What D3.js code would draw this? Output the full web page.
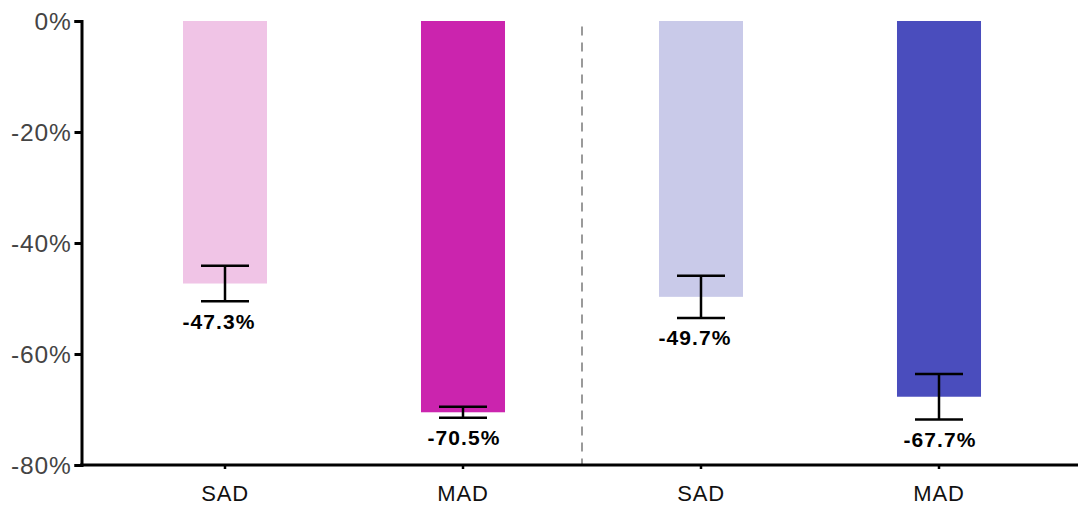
<!DOCTYPE html>
<html>
<head>
<meta charset="utf-8">
<script src="https://cdn.jsdelivr.net/npm/d3@7"></script>
<style>
  html, body { margin: 0; padding: 0; background: #fff; }
  svg { display: block; }
</style>
</head>
<body>
<svg id="chart" width="1078" height="505"></svg>
<script>
// Percent change by group: two treatment arms, each with SAD and MAD cohorts
const ids = ["a-sad", "a-mad", "b-sad", "b-mad"];
const categories = ["SAD", "MAD", "SAD", "MAD"];
const values = [-47.3, -70.5, -49.7, -67.7];
const errors = [3.2, 1.0, 3.8, 4.1];
const colors = ["#F0C4E6", "#CB24AE", "#C9CAE9", "#4A4DBD"];
const yTicks = [0, -20, -40, -60, -80];

const svg = d3.select("#chart");
const font = "'Liberation Sans', Arial, sans-serif";

const y = d3.scaleLinear().domain([0, -80]).range([21, 465]);
const x = d3.scaleBand().domain(ids).range([106, 1058])
  .paddingInner(0.647).paddingOuter(0.3235);

const rows = ids.map((id, i) => ({
  id, cat: categories[i], v: values[i], e: errors[i], c: colors[i]
}));

// bars hang down from zero
svg.append("g").selectAll("rect").data(rows).join("rect")
  .attr("x", d => x(d.id))
  .attr("y", y(0))
  .attr("width", x.bandwidth())
  .attr("height", d => y(d.v) - y(0))
  .attr("fill", d => d.c);

// separator between the two arms
const sepX = (x("a-mad") + x("b-sad") + x.bandwidth()) / 2;
svg.append("line")
  .attr("x1", sepX).attr("x2", sepX)
  .attr("y1", 26.5).attr("y2", y(-80))
  .attr("stroke", "#9a9a9a").attr("stroke-width", 2)
  .attr("stroke-dasharray", "9,7");

// error bars
const capHalf = 24;
const eb = svg.append("g").attr("stroke", "#000").attr("stroke-width", 2.5);
rows.forEach(d => {
  const cx = x(d.id) + x.bandwidth() / 2;
  const yTop = y(d.v + d.e), yBot = y(d.v - d.e);
  eb.append("line").attr("x1", cx).attr("x2", cx).attr("y1", yTop).attr("y2", yBot);
  eb.append("line").attr("x1", cx - capHalf).attr("x2", cx + capHalf).attr("y1", yTop).attr("y2", yTop);
  eb.append("line").attr("x1", cx - capHalf).attr("x2", cx + capHalf).attr("y1", yBot).attr("y2", yBot);
});

// value labels under the lower cap (SAD labels sit slightly left of centre)
svg.append("g").selectAll("text").data(rows).join("text")
  .attr("x", d => x(d.id) + x.bandwidth() / 2 + (d.cat === "SAD" ? -6 : 1))
  .attr("y", d => y(d.v - d.e) + 27.5)
  .attr("text-anchor", "middle")
  .attr("font-family", font)
  .attr("font-weight", "bold")
  .attr("font-size", 21)
  .attr("letter-spacing", 1.1)
  .attr("fill", "#000")
  .text(d => d.v.toFixed(1) + "%");

// y axis
const yAxis = svg.append("g").attr("transform", "translate(81.5,0)")
  .call(d3.axisLeft(y).tickValues(yTicks).tickSize(7).tickFormat(d => d + "%"));
yAxis.select(".domain").attr("stroke", "#000").attr("stroke-width", 3);
yAxis.selectAll(".tick line").attr("stroke", "#000").attr("stroke-width", 3);
yAxis.selectAll(".tick text")
  .attr("font-family", font).attr("font-size", 24.5)
  .attr("fill", "#444").attr("x", -10).attr("letter-spacing", 0.8)
  .attr("dy", "0.34em");

// x axis
const xAxis = svg.append("g").attr("transform", "translate(0,465)")
  .call(d3.axisBottom(x).tickSize(4).tickSizeOuter(0)
    .tickFormat((d, i) => categories[i]));
xAxis.select(".domain").attr("d", "M80,0H1078").attr("stroke", "#000").attr("stroke-width", 3);
xAxis.selectAll(".tick line").attr("stroke", "#000").attr("stroke-width", 2.5);
xAxis.selectAll(".tick text")
  .attr("font-family", font).attr("font-size", 22)
  .attr("letter-spacing", 0.8)
  .attr("fill", "#111").attr("dy", null).attr("y", 36);
</script>
</body>
</html>
